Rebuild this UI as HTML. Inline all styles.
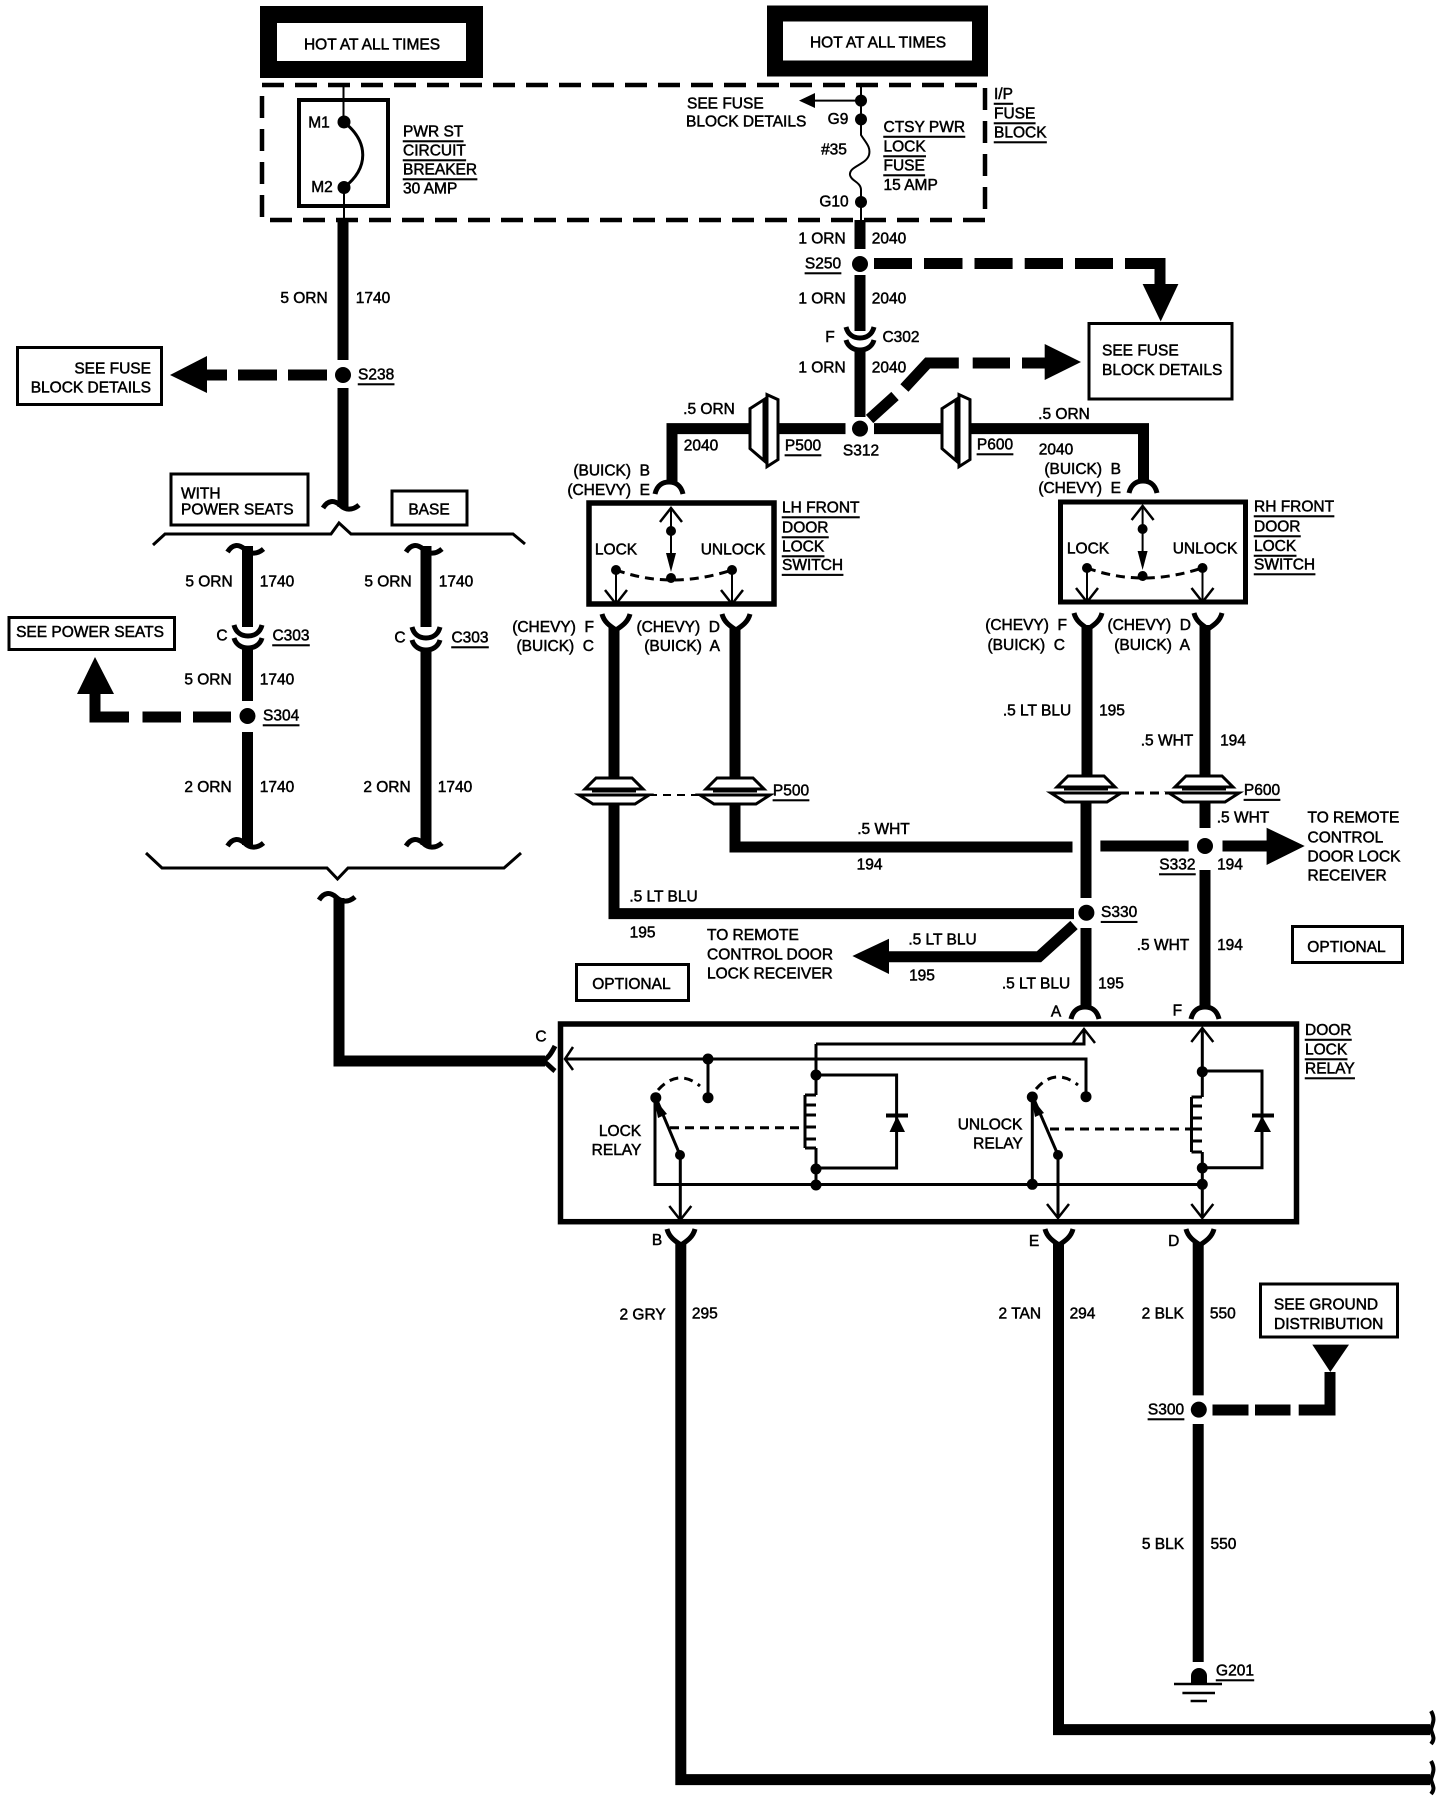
<!DOCTYPE html>
<html><head><meta charset="utf-8"><style>
html,body{margin:0;padding:0;background:#fff}
svg{display:block}
text{font-family:"Liberation Sans",sans-serif;font-size:15.5px;fill:#000;stroke:#000;stroke-width:.5px;dominant-baseline:central}
.m{text-anchor:middle}.e{text-anchor:end}
.u{text-decoration:underline}
.w{stroke:#000;stroke-width:11;fill:none}
.t{stroke:#000;stroke-width:3;fill:none}
.n{stroke:#000;stroke-width:2;fill:none}
.d{stroke:#000;stroke-width:3;fill:none;stroke-dasharray:9 6}
.b{stroke:#000;stroke-width:3;fill:#fff}
.x{stroke:#000;stroke-width:4;fill:#fff}
</style></head><body>
<svg width="1456" height="1800" viewBox="0 0 1456 1800" xmlns="http://www.w3.org/2000/svg">
<defs>
<path id="fork" d="M-14-14C-12-6-6-2 0 2C6-2 12-6 14-14" fill="none" stroke="#000" stroke-width="5"/>
<path id="arch" d="M-14 12C-12 3-6 0 0 0C6 0 12 3 14 12" fill="none" stroke="#000" stroke-width="5"/>
<path id="tilde" d="M-20 1C-15-7-9-7-3-2C2 3 9 4 16-2" fill="none" stroke="#000" stroke-width="5"/>
<g id="dbl"><path d="M-14-11C-12-3-6 0 0 0C6 0 12-3 14-11" fill="none" stroke="#000" stroke-width="5"/><path d="M-14 2C-12 9-6 12 0 12C6 12 12 9 14 2" fill="none" stroke="#000" stroke-width="5"/></g>
<g id="grom"><path d="M-18 0H18L29 11H-29Z" class="b"/><path d="M-35 17H35L21 26H-21Z" class="b"/><path d="M-35 17H35" stroke="#000" stroke-width="3"/><path d="M-22 13H22" stroke="#000" stroke-width="3"/></g>
<g id="hconn"><path d="M0-20L14-29V32L0 20Z" class="b"/><path d="M17-34L28-29V31L17 38Z" class="b"/></g>
<path id="hd" d="M-11 14L0 0L11 14" fill="none" stroke="#000" stroke-width="2.5"/>
</defs>

<!-- HOT boxes -->
<rect x="268.500" y="14.500" width="206" height="55" fill="#fff" stroke="#000" stroke-width="17"/>
<rect x="775" y="13.500" width="205" height="55" fill="#fff" stroke="#000" stroke-width="16"/>
<text class="m" x="372" y="45">HOT AT ALL TIMES</text>
<text class="m" x="878" y="43">HOT AT ALL TIMES</text>

<!-- dashed fuse block -->
<rect x="262" y="85" width="723" height="135" fill="none" stroke="#000" stroke-width="4.500" stroke-dasharray="22 11"/>

<!-- breaker -->
<rect x="299" y="100" width="89" height="106" class="x" fill="none"/>
<path class="n" d="M343.500 85V122M344 188V220"/>
<circle cx="344" cy="122" r="6.500"/><circle cx="344" cy="187.500" r="6.500"/>
<path class="t" d="M344 122C369 142 369 168 344 187.500"/>
<text class="m" x="319" y="123">M1</text><text class="m" x="322" y="187.500">M2</text>
<text class="u" x="403" y="132">PWR ST</text><text class="u" x="403" y="151">CIRCUIT</text><text class="u" x="403" y="170">BREAKER</text><text x="403" y="189">30 AMP</text>

<!-- left main wire -->
<path class="w" d="M343 220V360M343 388V507"/>
<circle cx="343" cy="375" r="8"/>
<use href="#tilde" x="343" y="507"/>
<text class="m" x="304" y="298.500">5 ORN</text><text class="m" x="373" y="298.500">1740</text>
<text class="u" x="358" y="375">S238</text>
<rect x="17.500" y="347.500" width="144" height="57" class="b" stroke-width="3"/>
<text class="e" x="151" y="369">SEE FUSE</text><text class="e" x="151" y="388">BLOCK DETAILS</text>
<path d="M170 375L207 356V393Z"/>
<path class="w" d="M207 375H227M238 375H277M288 375H327"/>

<!-- brace top -->
<rect x="171" y="474" width="137" height="51" class="b" stroke-width="3"/>
<rect x="392" y="491" width="75" height="34" class="b" stroke-width="3"/>
<text x="181" y="494">WITH</text><text x="181" y="510">POWER SEATS</text>
<text class="m" x="429" y="510">BASE</text>
<path class="t" d="M153 545L165 534H331L339 523L351 534H513L525 544"/>

<!-- branches -->
<path class="w" d="M247.500 546V627M247.500 648V701M247.500 732V845M426 546V627M426 650V845"/>
<use href="#tilde" x="247.500" y="551"/><use href="#tilde" x="426" y="551"/>
<use href="#dbl" x="248" y="636"/><use href="#dbl" x="426" y="638"/>
<circle cx="247.500" cy="716" r="8"/>
<use href="#tilde" x="247.500" y="845"/><use href="#tilde" x="426" y="845"/>
<text class="m" x="209" y="582">5 ORN</text><text class="m" x="277" y="582">1740</text>
<text class="m" x="388" y="582">5 ORN</text><text class="m" x="456" y="582">1740</text>
<text class="m" x="222" y="636">C</text><text class="m u" x="291" y="636">C303</text>
<text class="m" x="400" y="638">C</text><text class="m u" x="470" y="638">C303</text>
<text class="m" x="208" y="680">5 ORN</text><text class="m" x="277" y="680">1740</text>
<text class="m" x="208" y="787.500">2 ORN</text><text class="m" x="277" y="787.500">1740</text>
<text class="m" x="387" y="787.500">2 ORN</text><text class="m" x="455" y="787.500">1740</text>
<text class="u" x="263" y="716">S304</text>
<rect x="9" y="617.500" width="165.500" height="32" class="b" stroke-width="3"/>
<text class="m" x="90" y="632.500">SEE POWER SEATS</text>
<path d="M95 657L114 694H77Z"/>
<path class="w" d="M95 694V717H129M142.500 717H181M193 717H231"/>

<path class="t" d="M146 853L162 868H327L337.500 879L348 868H504L521 853"/>
<use href="#tilde" x="339" y="899"/>
<path class="w" d="M339 898V1061H545"/>
<path d="M555 1046C551 1054 548 1058 543 1061C548 1064 551 1068 555 1071" fill="none" stroke="#000" stroke-width="5"/>
<text class="m" x="541" y="1037">C</text>

<!-- fuse column -->
<path class="n" d="M861 85V135C866 143 871 147 869 155C866 165 849 166 850 175C851 181 861 182 861 190V220"/>
<circle cx="861" cy="100.600" r="6"/><circle cx="861" cy="119.400" r="6"/><circle cx="861" cy="202" r="6"/>
<path class="n" d="M815 100.600H861"/><path d="M799 100.600L815 93V108Z"/>
<text x="687" y="104">SEE FUSE</text><text x="686" y="122">BLOCK DETAILS</text>
<text class="m" x="838" y="119.400">G9</text><text class="m" x="834" y="150">#35</text><text class="m" x="834" y="202">G10</text>
<text class="u" x="883.500" y="127.500">CTSY PWR</text><text class="u" x="883.500" y="147">LOCK</text><text class="u" x="883.500" y="166">FUSE</text><text x="883.500" y="185.600">15 AMP</text>
<text class="u" x="994" y="94.500">I/P</text><text class="u" x="994" y="114">FUSE</text><text class="u" x="994" y="133">BLOCK</text>

<path class="w" d="M860 220V249M860 275V331M860 350V417"/>
<circle cx="860" cy="264" r="8"/><circle cx="860" cy="428.600" r="8"/>
<use href="#dbl" x="860" y="338"/>
<text class="m" x="822" y="239">1 ORN</text><text class="m" x="889" y="239">2040</text>
<text class="m u" x="823" y="264">S250</text>
<text class="m" x="822" y="299">1 ORN</text><text class="m" x="889" y="299">2040</text>
<text class="m" x="830" y="337.500">F</text><text class="m" x="901" y="337.500">C302</text>
<text class="m" x="822" y="368">1 ORN</text><text class="m" x="889" y="368">2040</text>

<path class="w" d="M874 263.500H912M924 263.500H962.500M974.500 263.500H1012.600M1024.700 263.500H1063M1075 263.500H1113M1125 263.500H1160V285"/>
<path d="M1142.600 284H1178.400L1160.700 321.500Z"/>
<rect x="1089" y="323.500" width="143" height="75.500" class="b" stroke-width="3"/>
<text x="1102" y="351">SEE FUSE</text><text x="1102" y="370.500">BLOCK DETAILS</text>
<path class="w" d="M869.600 419L895 396M904.400 388L927.600 363H958.800M972.700 363H1010M1022 363H1045"/>
<path d="M1044.700 344L1081 362L1044.700 380Z"/>

<!-- horizontal feed -->
<path class="w" d="M845.500 428.600H672V482M874 428.600H1143.500V482"/>
<use href="#hconn" x="750" y="428.600"/><use href="#hconn" x="942" y="428.600"/>
<use href="#arch" x="669" y="482"/><use href="#arch" x="1143" y="481"/>
<text class="m u" x="803" y="446">P500</text><text class="m u" x="995" y="445">P600</text><text class="m" x="861" y="451">S312</text>
<text class="m" x="709" y="409.500">.5 ORN</text><text class="m" x="701" y="446">2040</text>
<text class="m" x="1064" y="414.500">.5 ORN</text><text class="m" x="1056" y="450">2040</text>
<text class="e" x="650" y="471">(BUICK)&#160; B</text><text class="e" x="650" y="490.600">(CHEVY)&#160; E</text>
<text class="e" x="1121" y="469.600">(BUICK)&#160; B</text><text class="e" x="1121" y="488.700">(CHEVY)&#160; E</text>

<!-- LH switch -->
<rect x="589" y="503" width="185" height="101" fill="none" stroke="#000" stroke-width="5.500"/>
<path class="n" d="M671 508V568M616 570V603M732 570V603"/>
<use href="#hd" x="671" y="508"/><path d="M666 553H676L671 572Z"/>
<use href="#hd" transform="translate(616 604) scale(1 -1)"/><use href="#hd" transform="translate(732 604) scale(1 -1)"/>
<circle cx="671" cy="531" r="5"/><circle cx="671" cy="578" r="5"/><circle cx="616" cy="570" r="5"/><circle cx="732" cy="570" r="5"/>
<path class="d" d="M616 570Q671 590 732 570" stroke-width="2.500"/>
<text class="m" x="616" y="550">LOCK</text><text class="m" x="733" y="550">UNLOCK</text>
<text class="u" x="782" y="508">LH FRONT</text><text class="u" x="782" y="528">DOOR</text><text class="u" x="782" y="547">LOCK</text><text class="u" x="782" y="565.600">SWITCH</text>

<!-- RH switch -->
<rect x="1060.500" y="502" width="185" height="100" fill="none" stroke="#000" stroke-width="5"/>
<path class="n" d="M1142.600 505V566M1087 568V601M1202.500 568V601"/>
<use href="#hd" x="1142.600" y="506"/><path d="M1137.600 551H1147.600L1142.600 570Z"/>
<use href="#hd" transform="translate(1087 602) scale(1 -1)"/><use href="#hd" transform="translate(1202.500 602) scale(1 -1)"/>
<circle cx="1142.600" cy="529" r="5"/><circle cx="1142.600" cy="576" r="5"/><circle cx="1087" cy="568" r="5"/><circle cx="1202.500" cy="568" r="5"/>
<path class="d" d="M1087 568Q1142 588 1202 568" stroke-width="2.500"/>
<text class="m" x="1088" y="549">LOCK</text><text class="m" x="1205" y="549">UNLOCK</text>
<text class="u" x="1254" y="507">RH FRONT</text><text class="u" x="1254" y="527">DOOR</text><text class="u" x="1254" y="546.500">LOCK</text><text class="u" x="1254" y="565">SWITCH</text>

<!-- wires below LH switch -->
<path class="w" d="M614 627V778M614 805V913.600H1074M735 627V778M735 805V847H1072.500M1100.400 846H1188.600M1222.500 846H1267"/>
<use href="#fork" x="616" y="628"/><use href="#fork" x="736" y="628"/>
<use href="#grom" x="614" y="778"/><use href="#grom" x="735" y="778"/>
<path class="n" d="M649 795H703" stroke-dasharray="8 6"/>
<text class="e" x="594" y="627.500">(CHEVY)&#160; F</text><text class="e" x="594" y="646.700">(BUICK)&#160; C</text>
<text class="e" x="720" y="627.500">(CHEVY)&#160; D</text><text class="e" x="720" y="646.700">(BUICK)&#160; A</text>
<text class="m u" x="791" y="791">P500</text>

<!-- wires below RH switch -->
<path class="w" d="M1087 625V776M1086 803V898M1086 928V1009M1205 625V776M1205 803V828M1205 870V1007"/>
<use href="#fork" x="1088" y="627"/><use href="#fork" x="1208" y="627"/>
<use href="#grom" x="1086" y="776"/><use href="#grom" x="1204" y="776"/>
<path class="t" d="M1120 793H1169" stroke-dasharray="9 6"/>
<circle cx="1205" cy="846" r="8"/><circle cx="1086.400" cy="912.700" r="8"/>
<path d="M1266.600 827.700L1304.700 846L1266.600 865Z"/>
<path class="w" d="M1074 925L1039 956.700H889"/>
<path d="M889 938.700L852.400 956L889 974Z"/>
<use href="#arch" x="1085" y="1007"/><use href="#arch" x="1205" y="1007"/>
<text class="e" x="1067" y="625.600">(CHEVY)&#160; F</text><text class="e" x="1065" y="645.500">(BUICK)&#160; C</text>
<text class="e" x="1191" y="625.600">(CHEVY)&#160; D</text><text class="e" x="1190" y="645.500">(BUICK)&#160; A</text>
<text class="m" x="1037" y="711">.5 LT BLU</text><text class="m" x="1112" y="711">195</text>
<text class="m" x="1167" y="741">.5 WHT</text><text class="m" x="1233" y="741">194</text>
<text class="m u" x="1262" y="790.600">P600</text>
<text class="m" x="1243" y="818">.5 WHT</text>
<text x="1307.500" y="818">TO REMOTE</text><text x="1307.500" y="838">CONTROL</text><text x="1307.500" y="857">DOOR LOCK</text><text x="1307.500" y="876">RECEIVER</text>
<text class="m" x="883.500" y="829.600">.5 WHT</text><text class="m" x="869.600" y="865">194</text>
<text class="m u" x="1177.400" y="865">S332</text><text class="m" x="1230" y="865">194</text>
<text class="u" x="1101" y="912.700">S330</text>
<text class="m" x="663.500" y="897">.5 LT BLU</text><text class="m" x="642.600" y="933">195</text>
<text x="707" y="935.600">TO REMOTE</text><text x="707" y="955">CONTROL DOOR</text><text x="707" y="974">LOCK RECEIVER</text>
<rect x="576.500" y="964.500" width="112" height="36" class="b" stroke-width="3.500"/>
<text class="m" x="631.400" y="984.600">OPTIONAL</text>
<rect x="1292.500" y="926.500" width="110" height="36" class="b" stroke-width="3.500"/>
<text class="m" x="1346.500" y="947.500">OPTIONAL</text>
<text class="m" x="942.500" y="940">.5 LT BLU</text><text class="m" x="922" y="976">195</text>
<text class="m" x="1036" y="984">.5 LT BLU</text><text class="m" x="1111" y="984">195</text>
<text class="m" x="1163" y="945.600">.5 WHT</text><text class="m" x="1230" y="945.600">194</text>
<text class="m" x="1056" y="1012">A</text><text class="m" x="1177.400" y="1011">F</text>
<text class="u" x="1305" y="1030.500">DOOR</text><text class="u" x="1305" y="1050">LOCK</text><text class="u" x="1305" y="1069">RELAY</text>

<!-- Relay -->
<rect x="560.500" y="1024" width="736" height="197.700" fill="none" stroke="#000" stroke-width="5.500"/>
<path class="t" d="M566 1059H1086V1096.700M708 1059V1097.700M816 1044H1084V1030M816 1044V1095M816 1148V1185M816 1075H896.600V1168H816"/>
<path class="t" d="M655 1098V1184.500H1202M1032.300 1097V1184.500M680.300 1155V1218M1058 1155V1217M1202.300 1028V1097M1202.300 1152V1217M1202.300 1071H1262V1167.700H1202.300"/>
<path d="M573 1047L565 1059L573 1070" fill="none" stroke="#000" stroke-width="2.500"/>
<use href="#hd" x="1084" y="1029"/><use href="#hd" x="1202.300" y="1028"/>
<use href="#hd" transform="translate(680.300 1220) scale(1 -1)"/><use href="#hd" transform="translate(1058 1218) scale(1 -1)"/><use href="#hd" transform="translate(1202.300 1218) scale(1 -1)"/>
<path class="t" d="M805 1095V1148M805 1095H816M805 1148H816M805 1105H816M805 1115H816M805 1127H816M805 1139H816"/>
<path class="t" d="M1191.500 1097V1152M1191.500 1097H1202M1191.500 1152H1202M1191.500 1106H1202M1191.500 1118H1202M1191.500 1129H1202M1191.500 1141H1202"/>
<path d="M897 1116L905 1132H889.500Z"/><rect x="886" y="1113.500" width="22" height="4"/>
<path d="M1262 1116L1271 1132H1254Z"/><rect x="1252" y="1113.500" width="22" height="4"/>
<path class="d" d="M670 1127.700H803"/><path class="d" d="M1050 1129H1190" stroke-width="3.500"/>
<path class="t" d="M680 1155L656 1098"/><path class="t" d="M1058 1155L1033 1097"/>
<path d="M654 1098L667 1114L658 1118Z"/><path d="M1031 1097L1044 1113L1035 1117Z"/>
<path class="d" d="M658 1090Q678 1068 700 1086" stroke-width="2.500"/><path class="d" d="M1036 1089Q1055 1067 1078 1085" stroke-width="2.500"/>
<circle cx="708" cy="1059" r="5.500"/><circle cx="708" cy="1097.700" r="5.500"/><circle cx="655.800" cy="1097.700" r="5.500"/><circle cx="680" cy="1155" r="5"/>
<circle cx="816" cy="1075" r="5.500"/><circle cx="816" cy="1169" r="5.500"/><circle cx="816" cy="1185" r="5.500"/>
<circle cx="1086" cy="1096.700" r="5.500"/><circle cx="1032.300" cy="1097" r="5.500"/><circle cx="1058" cy="1155" r="5"/><circle cx="1032.300" cy="1184.300" r="5.500"/>
<circle cx="1202.300" cy="1071.700" r="5.500"/><circle cx="1202.300" cy="1168" r="5.500"/><circle cx="1202.300" cy="1184.300" r="5.500"/>
<text class="m" x="620" y="1131.700">LOCK</text><text class="m" x="616.500" y="1150.700">RELAY</text>
<text class="m" x="990" y="1125">UNLOCK</text><text class="m" x="998" y="1144">RELAY</text>

<!-- below relay -->
<path class="w" d="M680.800 1243V1779.600H1430M1058.500 1243V1729.600H1430M1198.200 1243V1395.400M1198.200 1424V1662"/>
<use href="#fork" x="681" y="1243"/><use href="#fork" x="1059" y="1243"/><use href="#fork" x="1200" y="1243"/>
<path d="M1431 1711C1436 1720 1432 1724 1431 1729.600C1432 1735 1436 1738 1431 1744M1431 1761C1436 1770 1432 1774 1431 1779.600C1432 1785 1436 1788 1431 1794" fill="none" stroke="#000" stroke-width="4"/>
<text class="m" x="657" y="1240.700">B</text><text class="m" x="1034" y="1241.700">E</text><text class="m" x="1173.700" y="1241.700">D</text>
<text class="m" x="642.600" y="1315">2 GRY</text><text class="m" x="704.800" y="1314">295</text>
<text class="m" x="1019.800" y="1314">2 TAN</text><text class="m" x="1082.500" y="1314">294</text>
<text class="m" x="1162.800" y="1314">2 BLK</text><text class="m" x="1222.800" y="1314">550</text>
<text class="m" x="1163" y="1544.600">5 BLK</text><text class="m" x="1223.400" y="1544.600">550</text>
<circle cx="1198.800" cy="1409.600" r="8"/>
<text class="m u" x="1166" y="1410">S300</text>
<path class="w" d="M1212.500 1410H1248.500M1255 1410H1290.500M1298.700 1410H1330V1372"/>
<path d="M1312.300 1344.600H1349L1330.300 1372Z"/>
<rect x="1260.500" y="1284" width="137" height="53" class="b" stroke-width="3"/>
<text class="m" x="1326" y="1305">SEE GROUND</text><text class="m" x="1328.700" y="1324.600">DISTRIBUTION</text>
<path d="M1191 1684V1676A8 8 0 0 1 1207 1676V1684Z"/>
<path d="M1174 1684H1222M1182.400 1693H1215M1190.600 1701H1207" stroke="#000" stroke-width="2.500"/>
<text class="m u" x="1235" y="1671">G201</text>
</svg>
</body></html>
